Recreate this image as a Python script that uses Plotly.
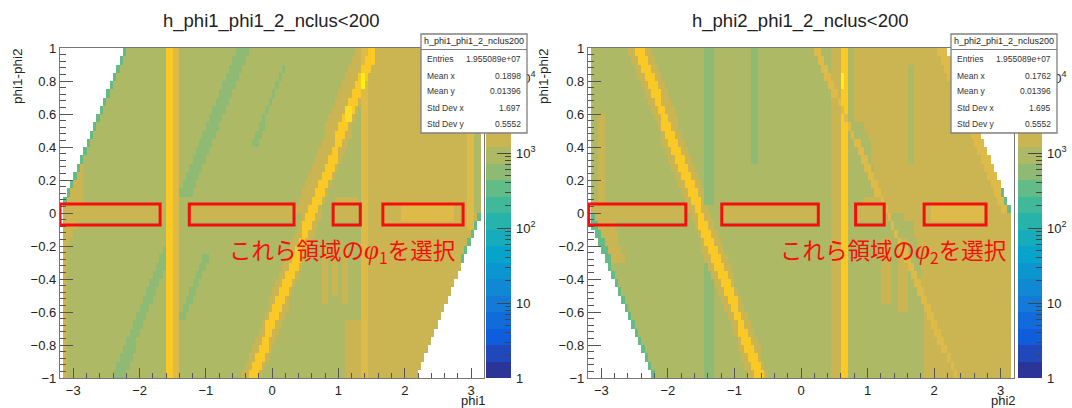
import numpy as np
import plotly.graph_objects as go

# ---------- data ----------
palette = ["#2d3498", "#2048bb", "#0f5cdd", "#116bda", "#137ad7", "#1188d4", "#0c96cf",
           "#06a4ca", "#16acbb", "#26b3ab", "#40b99b", "#63bc88", "#8fba74", "#adb964",
           "#cbb552", "#deba48", "#eec13a", "#fbc926", "#fcdc24", "#faf115"]
# count levels: index into palette
TEAL, GREEN, OLIVE, GOLD, AMBER, YELLOW, LEMON, BRIGHT = 11, 12, 13, 14, 15, 17, 18, 19

x_edges = [round(-3.2 + 0.05 * i, 2) for i in range(129)]
y_edges = [round(-1 + 0.05 * i, 2) for i in range(41)]

left_domain = [(-3.15, -1.0), (2.2, -1.0), (3.15, -0.02), (3.15, 1), (-2.2, 1), (-3.15, 0.07)]
right_domain = [(-3.15, 1), (2.2, 1), (3.15, 0.02), (3.15, -1), (-2.2, -1), (-3.15, -0.05)]

# (level, polygon vertices in axis units), painted in order
left_regions = [
    (GOLD, [(1.45, -1.05), (2.3, -1.05), (3.2, 0), (3.2, 1.05), (1.45, 1.05)]),
    (OLIVE, [(3.03, 0), (3.2, 0), (3.2, 1.05), (3.03, 1.05)]),
    (GREEN, [(-2.45, -1.05), (-2.28, -1.05), (-1.45, -0.15), (-1.6, -0.15)]),
    (GREEN, [(-1.4, 0.1), (-1.2, 0.1), (-0.3, 1.05), (-0.48, 1.05)]),
    (GREEN, [(-0.32, 0.4), (-0.24, 0.4), (0.25, 0.92), (0.17, 0.92)]),
    (GREEN, [(-1.4, -0.65), (-1.33, -0.65), (-0.95, -0.25), (-1.03, -0.25)]),
    (GOLD, [(-3.2, -0.2), (-3.05, -0.2), (-2.85, 0.05), (-2.85, 0.28), (-3.0, 0.28), (-3.2, 0.1)]),
    (GOLD, [(-3.2, -1.05), (-3.08, -1.05), (-3.08, 0), (-3.2, 0)]),
    (GOLD, [(-3.2, -0.075), (-1.65, -0.075), (-1.65, 0.05), (-3.2, 0.05)]),
    (GOLD, [(-1.25, -0.05), (0.3, -0.05), (0.3, 0.05), (-1.25, 0.05)]),
    (GOLD, [(0.95, -0.07), (1.32, -0.07), (1.32, 0.08), (0.95, 0.08)]),
    (AMBER, [(1.95, -0.03), (2.75, -0.03), (2.75, 0.03), (1.95, 0.03)]),
    (GOLD, [(-0.5, -1.05), (-0.2, -1.05), (1.7, 1.05), (1.4, 1.05)]),
    (GOLD, [(0.35, 0), (0.6, 0), (1.45, 1.05), (1.3, 1.05)]),
    (GOLD, [(1.1, -1.05), (1.4, -1.05), (1.4, -0.65), (1.1, -0.65)]),
    (GOLD, [(0.77, -0.55), (0.83, -0.55), (0.83, -0.2), (0.77, -0.2)]),
    (GOLD, [(0.92, -0.5), (0.98, -0.5), (0.98, -0.2), (0.92, -0.2)]),
    (GOLD, [(1.07, -0.55), (1.13, -0.55), (1.13, -0.2), (1.07, -0.2)]),
    (AMBER, [(-1.5, -1.05), (-1.4, -1.05), (-1.4, 1.05), (-1.5, 1.05)]),
    (YELLOW, [(-1.61, -1.05), (-1.5, -1.05), (-1.5, 1.05), (-1.61, 1.05)]),
    (AMBER, [(1.37, -1.05), (1.43, -1.05), (1.43, 1.05), (1.37, 1.05)]),
    (AMBER, [(2.96, -0.1), (3.03, -0.1), (3.03, 1.05), (2.96, 1.05)]),
    (YELLOW, [(-0.42, -1.05), (-0.28, -1.05), (1.64, 1.05), (1.5, 1.05)]),
    (LEMON, [(1.12, 0.54), (1.18, 0.54), (1.18, 0.66), (1.12, 0.66)]),
    (BRIGHT, [(1.37, 0.74), (1.42, 0.74), (1.42, 0.86), (1.37, 0.86)]),
    (TEAL, [(-3.2, 0.07), (-2.2, 1.05), (-2.14, 1.05), (-3.2, -0.05)]),
    (TEAL, [(2.12, -1.05), (2.22, -1.05), (3.2, -0.02), (3.2, 0.06)]),
]

right_regions = [
    (GOLD, [(1.85, -1.05), (3.2, -1.05), (3.2, 1.05), (0.78, 1.05), (0.78, 0.1), (1.7, -0.05), (1.85, -0.5)]),
    (OLIVE, [(0.75, 0.1), (1.15, 0.1), (1.0, 0.5), (0.75, 0.6)]),
    (GOLD, [(1.2, -0.55), (1.35, -0.55), (1.35, -0.15), (1.2, -0.15)]),
    (GOLD, [(1.45, -0.6), (1.6, -0.6), (1.6, -0.15), (1.45, -0.15)]),
    (GREEN, [(-1.47, 0.05), (-1.31, 0.05), (-1.31, 1.05), (-1.47, 1.05)]),
    (GREEN, [(-1.47, -1.05), (-1.31, -1.05), (-1.31, -0.2), (-1.47, -0.2)]),
    (GREEN, [(-0.74, 0.3), (-0.66, 0.3), (-0.66, 1.05), (-0.74, 1.05)]),
    (OLIVE, [(1.62, 0.3), (1.72, 0.3), (1.72, 0.9), (1.62, 0.9)]),
    (GOLD, [(-3.2, -0.075), (-1.75, -0.075), (-1.75, 0.05), (-3.2, 0.05)]),
    (GOLD, [(-1.2, -0.05), (0.25, -0.05), (0.25, 0.05), (-1.2, 0.05)]),
    (GOLD, [(0.82, -0.07), (1.25, -0.07), (1.25, 0.05), (0.82, 0.05)]),
    (AMBER, [(1.95, -0.03), (2.75, -0.03), (2.75, 0.03), (1.95, 0.03)]),
    (GOLD, [(-3.06, 0.05), (-2.94, 0.05), (-2.94, 0.62), (-3.06, 0.62)]),
    (GOLD, [(-3.2, -0.05), (-2.8, -0.05), (-2.65, -0.3), (-2.85, -0.3)]),
    (GOLD, [(-2.65, 1.05), (-2.3, 1.05), (-0.42, -1.05), (-0.72, -1.05)]),
    (GOLD, [(0.46, -1.05), (0.58, -1.05), (0.58, 1.05), (0.46, 1.05)]),
    (YELLOW, [(-2.56, 1.05), (-2.42, 1.05), (-0.49, -1.05), (-0.63, -1.05)]),
    (YELLOW, [(0.585, -1.05), (0.7, -1.05), (0.7, 1.05), (0.585, 1.05)]),
    (BRIGHT, [(0.62, 0.74), (0.67, 0.74), (0.67, 0.86), (0.62, 0.86)]),
    (AMBER, [(0.12, 1.05), (0.2, 1.05), (1.34, 0), (2.44, -1.05), (2.36, -1.05), (1.26, 0)]),
    (AMBER, [(2.0, 1.05), (2.15, 1.05), (3.15, 0.02), (3.0, 0.02)]),
    (TEAL, [(2.14, 1.05), (2.22, 1.05), (3.2, 0.02), (3.2, -0.06)]),
    (TEAL, [(-3.2, -0.05), (-2.22, -1.05), (-2.12, -1.05), (-3.2, 0.06)]),
]

left_boxes_x = [(-3.2, -1.69), (-1.25, 0.33), (0.92, 1.33), (1.67, 2.88)]
right_boxes_x = [(-3.19, -1.73), (-1.19, 0.26), (0.82, 1.25), (1.85, 2.78)]
box_y = (-0.073, 0.055)

stat_labels = ["Entries", "Mean x", "Mean y", "Std Dev x", "Std Dev y"]
left_stats = ["1.955089e+07", "0.1898", "0.01396", "1.697", "0.5552"]
right_stats = ["1.955089e+07", "0.1762", "0.01396", "1.695", "0.5552"]

x_ticks = [-3, -2, -1, 0, 1, 2, 3]
x_tick_text = ["\u22123", "\u22122", "\u22121", "0", "1", "2", "3"]
y_ticks = [-1, -0.8, -0.6, -0.4, -0.2, 0, 0.2, 0.4, 0.6, 0.8, 1]
y_tick_text = ["\u22121", "\u22120.8", "\u22120.6", "\u22120.4", "\u22120.2", "0", "0.2", "0.4", "0.6", "0.8", "1"]
cb_ticks = [1, 10, 100, 1000, 10000]
cb_tick_text = ["1", "10", "10<sup>2</sup>", "10<sup>3</sup>", "10<sup>4</sup>"]
cb_minor = [m * d for d in (1, 10, 100, 1000, 10000) for m in range(2, 10) if m * d < 25000]

# ---------- helpers ----------
W, H = 1072, 408
SANS = "Liberation Sans, Arial, sans-serif"
TEXT = "#222222"
RED = "#f50f0c"


def px(v):
    return v / W


def py(v):
    return 1 - v / H


def inside(poly, X, Y):
    hit = np.zeros(X.shape, bool)
    n = len(poly)
    for i in range(n):
        x1, y1 = poly[i]
        x2, y2 = poly[(i + 1) % n]
        if y1 == y2:
            continue
        crosses = (y1 > Y) != (y2 > Y)
        hit ^= crosses & (X < (x2 - x1) * (Y - y1) / (y2 - y1) + x1)
    return hit


def raster(domain, regions):
    xc = (np.array(x_edges[:-1]) + np.array(x_edges[1:])) / 2
    yc = (np.array(y_edges[:-1]) + np.array(y_edges[1:])) / 2
    X, Y = np.meshgrid(xc, yc)
    z = np.full(X.shape, OLIVE + 0.5)
    for level, poly in regions:
        z[inside(poly, X, Y)] = level + 0.5
    z[~inside(domain, X, Y)] = np.nan
    return xc, yc, z


scale = []
for i, c in enumerate(palette):
    scale += [[i / 20, c], [(i + 1) / 20, c]]

fig = go.Figure()
panels = [
    dict(sfx="", cb="3", frame=(60, 484.3), cbx=(486, 511), domain=left_domain, regions=left_regions),
    dict(sfx="2", cb="4", frame=(588, 1014), cbx=(1018, 1042), domain=right_domain, regions=right_regions),
]
TOP, BOTTOM = 48, 378
layout = {}
shapes = []
ann = []

for p, name, ytitle_x, boxes, box_px, stats, text_cx, sym in [
    (panels[0], "h_phi1_phi1_2", 17, left_boxes_x, (421, 527), left_stats, 342, "1"),
    (panels[1], "h_phi2_phi1_2", 543, right_boxes_x, (951, 1057), right_stats, 893, "2"),
]:
    xa, ya = "x" + p["sfx"], "y" + p["sfx"]
    xc, yc, z = raster(p["domain"], p["regions"])
    fig.add_trace(go.Heatmap(x=xc, y=yc, z=z, xaxis=xa, yaxis=ya, colorscale=scale, zmin=0, zmax=20,
                             showscale=False, hoverongaps=False))
    layout["xaxis" + p["sfx"]] = dict(
        domain=[px(p["frame"][0]), px(p["frame"][1])], range=[-3.2, 3.2], anchor=ya, automargin=False,
        tickvals=x_ticks, ticktext=x_tick_text, ticks="inside", ticklen=10, tickcolor="#555", tickwidth=1,
        minor=dict(ticks="inside", ticklen=5, tickcolor="#555", dtick=0.2, tick0=0),
        showgrid=False, zeroline=False, showline=True, mirror=True, linecolor="#777", linewidth=1.3,
        tickfont=dict(family=SANS, size=13, color=TEXT))
    layout["yaxis" + p["sfx"]] = dict(
        domain=[py(BOTTOM), py(TOP)], range=[-1, 1], anchor=xa, automargin=False,
        tickvals=y_ticks, ticktext=y_tick_text, ticks="inside", ticklen=13, tickcolor="#555", tickwidth=1,
        minor=dict(ticks="inside", ticklen=6, tickcolor="#555", dtick=0.04, tick0=0),
        showgrid=False, zeroline=False, showline=True, mirror=True, linecolor="#777", linewidth=1.3,
        tickfont=dict(family=SANS, size=13, color=TEXT))

    # palette strip
    xb, yb = "x" + p["cb"], "y" + p["cb"]
    fig.add_trace(go.Heatmap(x=[0], y=[(i + 0.5) * 0.22 for i in range(20)], z=[[i + 0.5] for i in range(20)],
                             xaxis=xb, yaxis=yb, colorscale=scale, zmin=0, zmax=20, showscale=False,
                             hoverinfo="skip"))
    layout["xaxis" + p["cb"]] = dict(domain=[px(p["cbx"][0]), px(p["cbx"][1])], range=[-0.5, 0.5], anchor=yb,
                                    automargin=False, showticklabels=False, ticks="", showgrid=False,
                                    zeroline=False)
    layout["yaxis" + p["cb"]] = dict(
        domain=[py(BOTTOM), py(TOP)], range=[0, 4.4], anchor=xb, side="right", automargin=False,
        tickvals=[float(np.log10(t)) for t in cb_ticks], ticktext=cb_tick_text,
        ticks="inside", ticklen=14, tickcolor="#444", tickwidth=1, ticklabelstandoff=4,
        minor=dict(ticks="inside", ticklen=6, tickcolor="#444",
                   tickvals=[float(np.log10(t)) for t in cb_minor]),
        showgrid=False, zeroline=False, tickfont=dict(family=SANS, size=13, color=TEXT))

    # selection boxes
    for x0, x1 in boxes:
        shapes.append(dict(type="rect", xref=xa, yref=ya, x0=x0, x1=x1, y0=box_y[0], y1=box_y[1],
                           line=dict(color=RED, width=3), layer="above"))

    # stats box
    bl, br = box_px
    shapes.append(dict(type="rect", xref="paper", yref="paper", x0=px(bl), x1=px(br), y0=py(133), y1=py(34),
                       fillcolor="white", line=dict(color="#808080", width=1.3), layer="above"))
    shapes.append(dict(type="line", xref="paper", yref="paper", x0=px(bl), x1=px(br), y0=py(49.5), y1=py(49.5),
                       line=dict(color="#808080", width=1.1), layer="above"))
    ann.append(dict(x=px((bl + br) / 2), y=py(41.5), text=name + "_nclus200", xanchor="center",
                    font=dict(family=SANS, size=9, color=TEXT)))
    for lab, val, yy in zip(stat_labels, stats, [59, 75.5, 91, 108, 124]):
        ann.append(dict(x=px(bl + 5), y=py(yy), text=lab, xanchor="left", font=dict(family=SANS, size=8.5, color="#333")))
        ann.append(dict(x=px(br - 5), y=py(yy), text=val, xanchor="right", font=dict(family=SANS, size=8.5, color="#333")))

    # texts
    ann.append(dict(x=px(sum(p["frame"]) / 2 - 0.5), y=py(21), text=name + "_nclus&lt;200", xanchor="center",
                    font=dict(family=SANS, size=18.5, color=TEXT)))
    ann.append(dict(x=px(ytitle_x), y=py(76), text="phi1-phi2", textangle=-90, xanchor="center",
                    font=dict(family=SANS, size=13.5, color=TEXT)))
    ann.append(dict(x=px(p["frame"][1] - 11), y=py(400.7), text="phi" + sym, xanchor="center",
                    font=dict(family=SANS, size=13, color=TEXT)))
    ann.append(dict(x=px(text_cx), y=py(251),
                    text="これら領域の<i><span style='font-family:Liberation Serif;font-size:27px'>φ</span></i><sub>" + sym + "</sub>を選択",
                    xanchor="center", font=dict(family="Noto Sans CJK JP", size=22.5, color=RED)))

for a in ann:
    a.update(xref="paper", yref="paper", yanchor="middle", showarrow=False, borderpad=0)

fig.update_layout(template="none", width=W, height=H, autosize=False, margin=dict(l=0, r=0, t=0, b=0, pad=0),
                  paper_bgcolor="white", plot_bgcolor="white", showlegend=False,
                  shapes=shapes, annotations=ann, **layout)

# the reference is a soft video still: soften only the binned images
post = ("document.body.style.margin='0';"
        "document.querySelectorAll('.hm image').forEach(function(i){i.style.filter='blur(0.7px)';});")
fig.write_html("out.html", post_script=post, config=dict(displayModeBar=False))
